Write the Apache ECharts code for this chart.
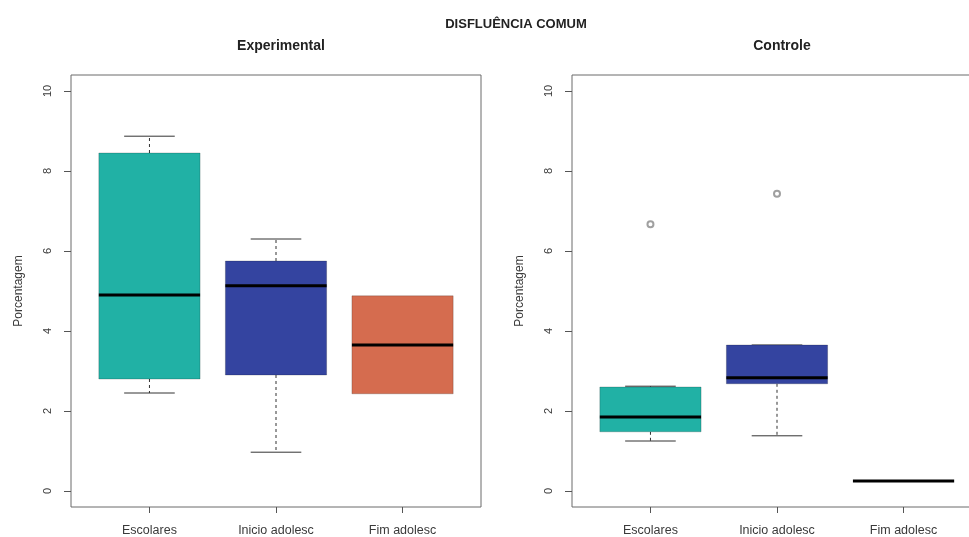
<!DOCTYPE html>
<html>
<head>
<meta charset="utf-8">
<script src="https://cdn.jsdelivr.net/npm/echarts@6/dist/echarts.min.js"></script>
<style>
  html, body { margin: 0; padding: 0; background: #ffffff; }
  #chart { width: 969px; height: 537px; }
</style>
</head>
<body>
<div id="chart"></div>
<script>
// Group names along the x axis
const categories = ['Escolares', 'Inicio adolesc', 'Fim adolesc'];
const groupColors = ['#21b1a5', '#3444a0', '#d56c4f'];

// Five-number summaries per group: [lower whisker, Q1, median, Q3, upper whisker]
const experimentalStats = [
  [2.45, 2.80, 4.90, 8.45, 8.87],
  [0.97, 2.90, 5.13, 5.75, 6.30],
  [2.43, 2.43, 3.65, 4.88, 4.88]
];
const controleStats = [
  [1.25, 1.48, 1.85, 2.60, 2.62],
  [1.38, 2.68, 2.83, 3.65, 3.65],
  [0.25, 0.25, 0.25, 0.25, 0.25]
];
// Outlying points: [group position, value]
const experimentalOutliers = [];
const controleOutliers = [[1, 6.67], [2, 7.43]];

const yTicks = [0, 2, 4, 6, 8, 10];
const xTicks = [1, 2, 3];

const FONT = 'Liberation Sans, Arial, sans-serif';

function boxData(stats) {
  return stats.map((s, i) => [i + 1, s[0], s[1], s[2], s[3], s[4], i]);
}

function renderBox(params, api) {
  const x = api.value(0);
  const lo = api.value(1), q1 = api.value(2), med = api.value(3), q3 = api.value(4), hi = api.value(5);
  const color = groupColors[api.value(6)];
  const boxW = api.size([0.8, 0])[0];
  const capW = boxW / 2;
  const c = api.coord([x, 0])[0];
  const yLo = api.coord([x, lo])[1];
  const yQ1 = api.coord([x, q1])[1];
  const yMed = api.coord([x, med])[1];
  const yQ3 = api.coord([x, q3])[1];
  const yHi = api.coord([x, hi])[1];
  const children = [];
  const whiskerStyle = { stroke: '#333', lineWidth: 1, lineDash: [3, 3] };
  const capStyle = { stroke: '#333', lineWidth: 1 };
  if (hi > q3) {
    children.push({ type: 'line', shape: { x1: c, y1: yQ3, x2: c, y2: yHi }, style: whiskerStyle });
  }
  if (lo < q1) {
    children.push({ type: 'line', shape: { x1: c, y1: yQ1, x2: c, y2: yLo }, style: whiskerStyle });
  }
  if (hi > q3 || lo < q1) {
    children.push({ type: 'line', shape: { x1: c - capW / 2, y1: yHi, x2: c + capW / 2, y2: yHi }, style: capStyle });
    children.push({ type: 'line', shape: { x1: c - capW / 2, y1: yLo, x2: c + capW / 2, y2: yLo }, style: capStyle });
  }
  if (q3 > q1) {
    children.push({
      type: 'rect',
      shape: { x: c - boxW / 2, y: yQ3, width: boxW, height: yQ1 - yQ3 },
      style: { fill: color, stroke: 'rgba(0,0,0,0.2)', lineWidth: 1 }
    });
  }
  children.push({
    type: 'line',
    shape: { x1: c - boxW / 2, y1: yMed, x2: c + boxW / 2, y2: yMed },
    style: { stroke: '#000', lineWidth: 3 }
  });
  return { type: 'group', children: children };
}

function gridCfg(left, right) {
  return {
    left: left, right: right, top: 75, height: 432,
    outerBoundsMode: 'none',
    show: true, borderColor: '#6b6b6b', borderWidth: 1, backgroundColor: 'transparent'
  };
}

function xAxisCfg(gridIndex) {
  return {
    type: 'value', gridIndex: gridIndex, min: 0.38, max: 3.62,
    splitLine: { show: false },
    axisLine: { show: false, onZero: false },
    axisTick: { show: true, customValues: xTicks, length: 6, inside: false, lineStyle: { color: '#555' } },
    axisLabel: {
      customValues: xTicks, margin: 17, color: '#3a3a3a', fontSize: 12.5, fontFamily: FONT,
      formatter: v => categories[Math.round(v) - 1] || ''
    }
  };
}

function yAxisCfg(gridIndex) {
  return {
    type: 'value', gridIndex: gridIndex, min: -0.4, max: 10.4,
    name: 'Porcentagem', nameLocation: 'middle', nameGap: 46, nameRotate: 90,
    nameTextStyle: { color: '#3a3a3a', fontSize: 12, fontFamily: FONT },
    splitLine: { show: false },
    axisLine: { show: false, onZero: false },
    axisTick: { show: true, customValues: yTicks, length: 7, lineStyle: { color: '#555' } },
    axisLabel: {
      customValues: yTicks, rotate: 90, margin: 18, color: '#3a3a3a', fontSize: 11, fontFamily: FONT
    }
  };
}

const chart = echarts.init(document.getElementById('chart'), null, { renderer: 'canvas' });
chart.setOption({
  backgroundColor: '#ffffff',
  animation: false,
  title: [
    { text: 'DISFLUÊNCIA COMUM', left: 511, top: 13, textAlign: 'center',
      textStyle: { fontSize: 13, fontWeight: 'bold', color: '#222', fontFamily: FONT } },
    { text: 'Experimental', left: 276, top: 34, textAlign: 'center',
      textStyle: { fontSize: 14, fontWeight: 'bold', color: '#222', fontFamily: FONT } },
    { text: 'Controle', left: 777, top: 34, textAlign: 'center',
      textStyle: { fontSize: 14, fontWeight: 'bold', color: '#222', fontFamily: FONT } }
  ],
  grid: [gridCfg(71, 488), gridCfg(572, -13)],
  xAxis: [xAxisCfg(0), xAxisCfg(1)],
  yAxis: [yAxisCfg(0), yAxisCfg(1)],
  series: [
    { type: 'custom', xAxisIndex: 0, yAxisIndex: 0, renderItem: renderBox,
      data: boxData(experimentalStats), encode: { x: 0, y: [1, 5] } },
    { type: 'custom', xAxisIndex: 1, yAxisIndex: 1, renderItem: renderBox,
      data: boxData(controleStats), encode: { x: 0, y: [1, 5] } },
    { type: 'scatter', xAxisIndex: 0, yAxisIndex: 0, data: experimentalOutliers,
      symbol: 'emptyCircle', symbolSize: 6, itemStyle: { color: '#888', borderColor: '#888', borderWidth: 1 } },
    { type: 'scatter', xAxisIndex: 1, yAxisIndex: 1, data: controleOutliers,
      symbol: 'emptyCircle', symbolSize: 6, itemStyle: { color: '#888', borderColor: '#888', borderWidth: 1 } }
  ]
});
</script>
</body>
</html>
